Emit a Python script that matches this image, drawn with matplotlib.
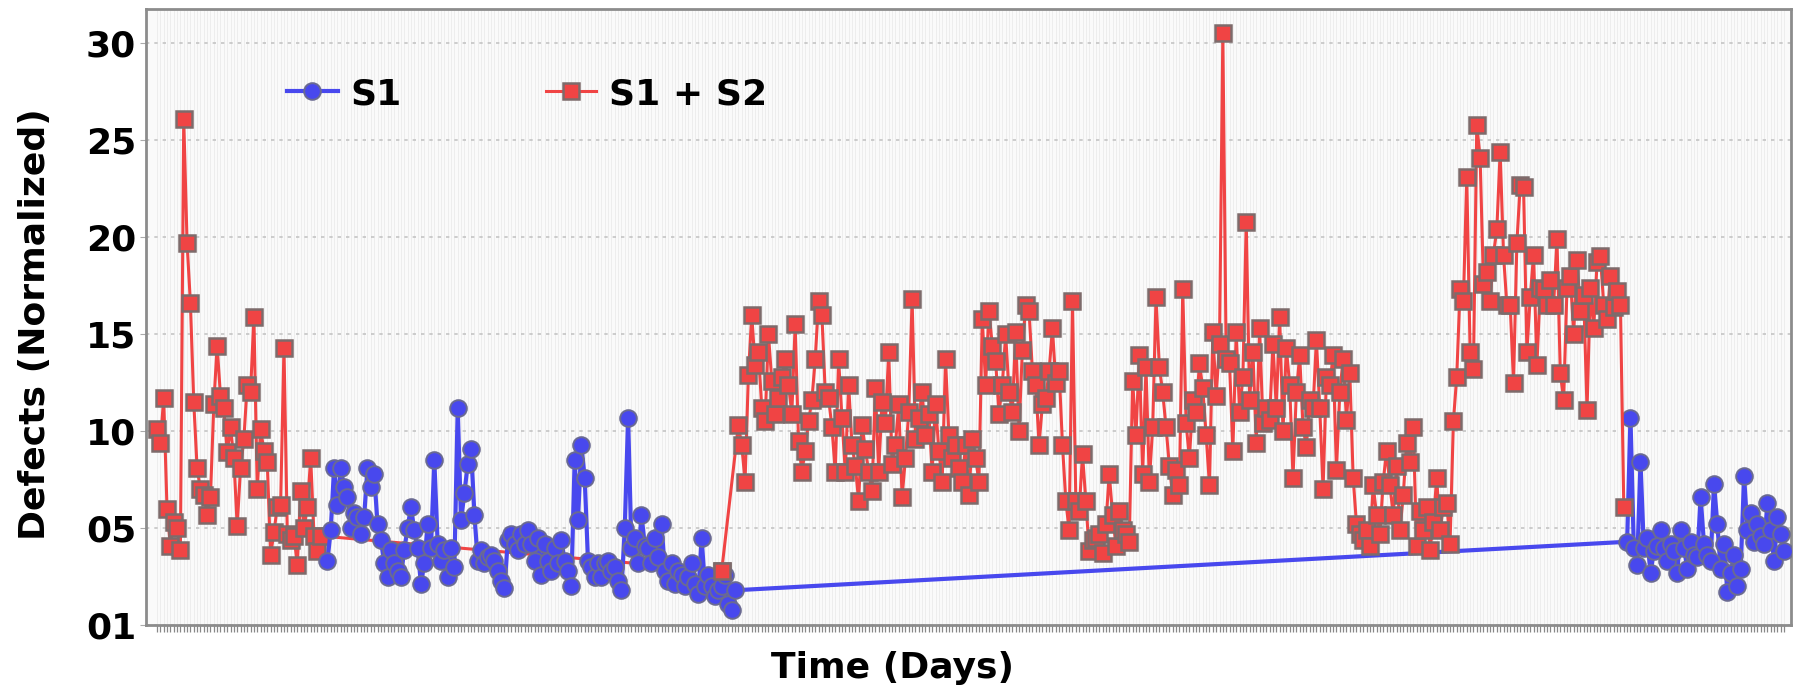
import numpy as np
import matplotlib.pyplot as plt
from matplotlib.lines import Line2D

# S1 + S2, first stretch (days from 0)
red_a = [10.1, 9.4, 11.7, 6.0, 4.1, 5.3, 5.0, 3.9, 26.1, 19.7, 16.6, 11.5, 8.1, 7.0, 6.7,
         5.7, 6.6, 11.4, 14.4, 11.8, 11.2, 8.9, 10.2, 8.6, 5.1, 8.1, 9.6, 12.4, 12.0, 15.9,
         7.0, 10.1, 9.0, 8.4, 3.6, 4.8, 6.1, 6.2, 14.3, 4.7, 4.4, 4.6, 3.1, 6.9, 5.0,
         6.1, 8.6, 4.6, 3.8, 4.6]

# S1, first stretch
blue_b = [3.3, 4.9, 8.1, 6.2, 8.1, 7.1, 6.6, 5.0, 5.8, 5.6, 4.7, 5.6, 8.1, 7.1, 7.8,
          5.2, 4.4, 3.2, 2.5, 3.9, 3.2, 2.8, 2.5, 3.9, 5.0, 6.1, 4.9, 4.0, 2.1, 3.2,
          5.2, 4.0, 8.5, 4.2, 3.3, 3.9, 2.5, 4.0, 3.0, 11.2, 5.4, 6.8, 8.3, 9.1, 5.7,
          3.3, 3.9, 3.2, 3.5, 3.6, 3.3, 2.8, 2.3, 1.9, 4.4, 4.7, 4.2, 3.9, 4.7, 4.2,
          4.9, 4.2, 3.3, 4.5, 2.6, 4.2, 3.3, 2.8, 4.0, 3.2, 4.4, 3.3, 2.8, 2.0, 8.5,
          5.4, 9.3, 7.6, 3.3, 3.0, 2.5, 3.2, 2.5, 3.2, 3.3, 2.8, 3.0, 2.3, 1.8, 5.0,
          10.7, 4.0, 4.5, 3.2, 5.7, 4.1, 4.0, 3.2, 4.5, 3.5, 5.2, 2.8, 2.3, 3.2, 2.1,
          2.8, 2.6, 2.0, 2.5, 3.2, 2.1, 1.6, 4.5, 2.0, 2.6, 2.0, 1.5, 1.8, 2.0, 2.6,
          1.1, 0.8, 1.8]

# lone S1 + S2 reading inside the S1 stretch
red_mid = [2.8]

# S1 + S2, second stretch
red_c = [10.3, 9.3, 7.4, 12.9, 16.0, 13.4, 14.1, 11.2, 10.5, 15.0, 12.6, 10.9, 11.7, 12.8, 13.7,
         12.4, 10.9, 15.5, 9.5, 7.9, 9.0, 10.5, 11.6, 13.7, 16.7, 16.0, 12.0, 11.7, 10.2, 7.9,
         13.7, 10.7, 7.9, 12.4, 9.3, 8.2, 6.4, 10.3, 9.1, 7.9, 6.9, 12.2, 7.9, 11.5, 10.4,
         14.1, 8.3, 9.3, 11.4, 6.6, 8.6, 11.0, 16.8, 9.6, 10.7, 12.0, 9.8, 10.9, 7.9, 11.4,
         9.0, 7.4, 13.7, 9.8, 8.6, 9.3, 8.1, 7.4, 9.3, 6.7, 9.6, 8.6, 7.4, 15.8, 12.4,
         16.2, 14.4, 13.6, 10.9, 12.4, 15.0, 12.0, 11.0, 15.1, 10.0, 14.2, 16.5, 16.2, 13.1, 12.4,
         9.3, 11.4, 11.7, 13.1, 15.3, 12.5, 13.1, 9.3, 6.4, 4.9, 16.7, 6.4, 5.9, 8.8, 6.4,
         3.8, 4.4,
         4.5, 4.7, 3.7, 5.2, 7.8, 5.7, 4.1, 5.9, 4.9, 4.7, 4.3, 12.6, 9.8, 13.9, 7.8,
         13.3, 7.4, 10.2, 16.9, 13.3, 12.0, 10.2, 8.2, 6.7, 8.0, 7.2, 17.3, 10.4, 8.6, 11.6,
         11.0, 13.5, 12.2, 9.8, 7.2, 15.1, 11.8, 14.5, 30.5, 13.7, 13.5, 9.0, 15.1, 11.0, 12.8,
         20.8, 11.6, 14.1, 9.4, 15.3, 10.4, 11.2, 10.6, 14.5, 11.2, 15.9, 10.0, 14.3, 12.4, 7.6,
         12.0, 13.9, 10.2, 9.2, 11.6, 11.2, 14.7, 11.2, 7.0, 12.8, 12.4, 13.9, 8.0, 12.0, 13.7,
         10.6, 13.0, 7.6, 5.2, 4.7, 4.4, 4.9, 4.1, 7.2, 5.7, 4.7, 7.4, 9.0, 7.2, 5.7,
         8.2, 4.9, 6.7, 9.4, 8.4, 10.2, 4.1, 5.9, 4.9, 6.1, 3.9, 5.3, 7.6, 4.9, 6.1,
         6.3, 4.2, 10.5, 12.8, 17.3, 16.7, 23.1, 14.1, 13.2, 25.8, 24.1, 17.6, 18.2, 16.7, 19.1,
         20.4, 24.4, 19.1, 16.5, 16.5, 12.5, 19.7, 22.7, 22.6, 14.1, 16.9, 19.1, 13.4, 17.4, 17.3,
         16.5, 17.8, 16.5, 19.9, 13.0, 11.6, 17.4, 18.0, 15.0, 18.8, 16.2, 17.0, 11.1, 17.4, 15.3,
         18.7, 19.0, 16.5, 15.8, 18.0, 16.4, 17.2, 16.5, 6.1]

# S1, second stretch
blue_d = [4.3, 10.7, 4.0, 3.1, 8.4, 4.0, 4.5, 2.7, 3.8, 4.1, 4.9, 4.0, 3.3, 4.2, 3.8,
          2.7, 4.9, 4.0, 2.9, 4.3, 3.6, 3.5, 6.6, 4.2, 3.6, 3.3, 7.3, 5.2, 2.9, 4.2,
          1.7, 2.7, 3.6, 2.0, 2.9, 7.7, 4.9, 5.8, 4.3, 5.2, 4.6, 4.2, 6.3, 4.9, 3.3,
          5.6, 4.7, 3.8]

y_ticks = [0, 5, 10, 15, 20, 25, 30]
y_tick_labels = ['01', '05', '10', '15', '20', '25', '30']

# day index of every reading
a_days = np.arange(len(red_a))
b_days = a_days[-1] + 2 + np.arange(len(blue_b))
mid_days = [b_days[-1] - 4]
c_days = b_days[-1] + 1 + np.arange(len(red_c))
d_days = c_days[-1] + 1 + np.arange(len(blue_d))
last_day = d_days[-1]

red_col, red_edge = '#f04444', '#7d6b6b'
blue_col, blue_edge = '#4848ee', '#6a6a92'

fig = plt.figure(figsize=(17.98, 6.97), dpi=100)
ax = fig.add_axes([0.0812, 0.103, 0.915, 0.884])
ax.set_facecolor('#fafafa')

red_style = dict(color=red_col, lw=2.2, marker='s', ms=12, mfc=red_col,
                 mec=red_edge, mew=1.8)
blue_style = dict(color=blue_col, lw=3.0, marker='o', ms=12, mfc=blue_col,
                  mec=blue_edge, mew=1.4)

# first S1 + S2 part under S1, second part over it
ax.plot(np.concatenate([a_days, mid_days]), red_a + red_mid, zorder=3, **red_style)
ax.plot(np.concatenate([b_days, d_days]), blue_b + blue_d, zorder=4, **blue_style)
ax.plot(np.concatenate([mid_days, c_days]), red_mid + red_c, zorder=5, **red_style)

ppd = 1627 / last_day
ax.set_xlim(-11 / ppd, last_day + 7 / ppd)
ax.set_ylim(0, 31.75)

ax.set_yticks(y_ticks)
ax.set_yticklabels(y_tick_labels, fontsize=26, fontweight='bold')
ax.tick_params(axis='y', length=4, color='#aaaaaa', pad=3)
ax.set_xticks(np.arange(0, last_day + 1))
ax.tick_params(axis='x', length=5, width=0.9, color='#888888', labelbottom=False)

ax.yaxis.grid(True, linestyle=(0, (2, 3)), color='#c4c4c4', lw=1.2)
ax.xaxis.grid(True, color='#ebebeb', lw=0.6)
ax.set_axisbelow(True)
for s in ax.spines.values():
    s.set_color('#8c8c8c')
    s.set_linewidth(2)

ax.set_ylabel('Defects (Normalized)', fontsize=26, fontweight='bold')
ax.yaxis.set_label_coords(-0.057, 0.489)
ax.set_xlabel('Time (Days)', fontsize=26, fontweight='bold')
ax.xaxis.set_label_coords(0.4535, -0.042)

handles = [Line2D([], [], **blue_style), Line2D([], [], **red_style)]
leg = ax.legend(handles, ['S1', 'S1 + S2'], loc='center left',
                bbox_to_anchor=(0.0857, 0.862), ncol=2, frameon=False,
                prop={'size': 26, 'weight': 'bold'}, handlelength=1.4,
                handletextpad=0.35, columnspacing=4.0, borderpad=0,
                borderaxespad=0)

fig.savefig('out.png', dpi=100)
